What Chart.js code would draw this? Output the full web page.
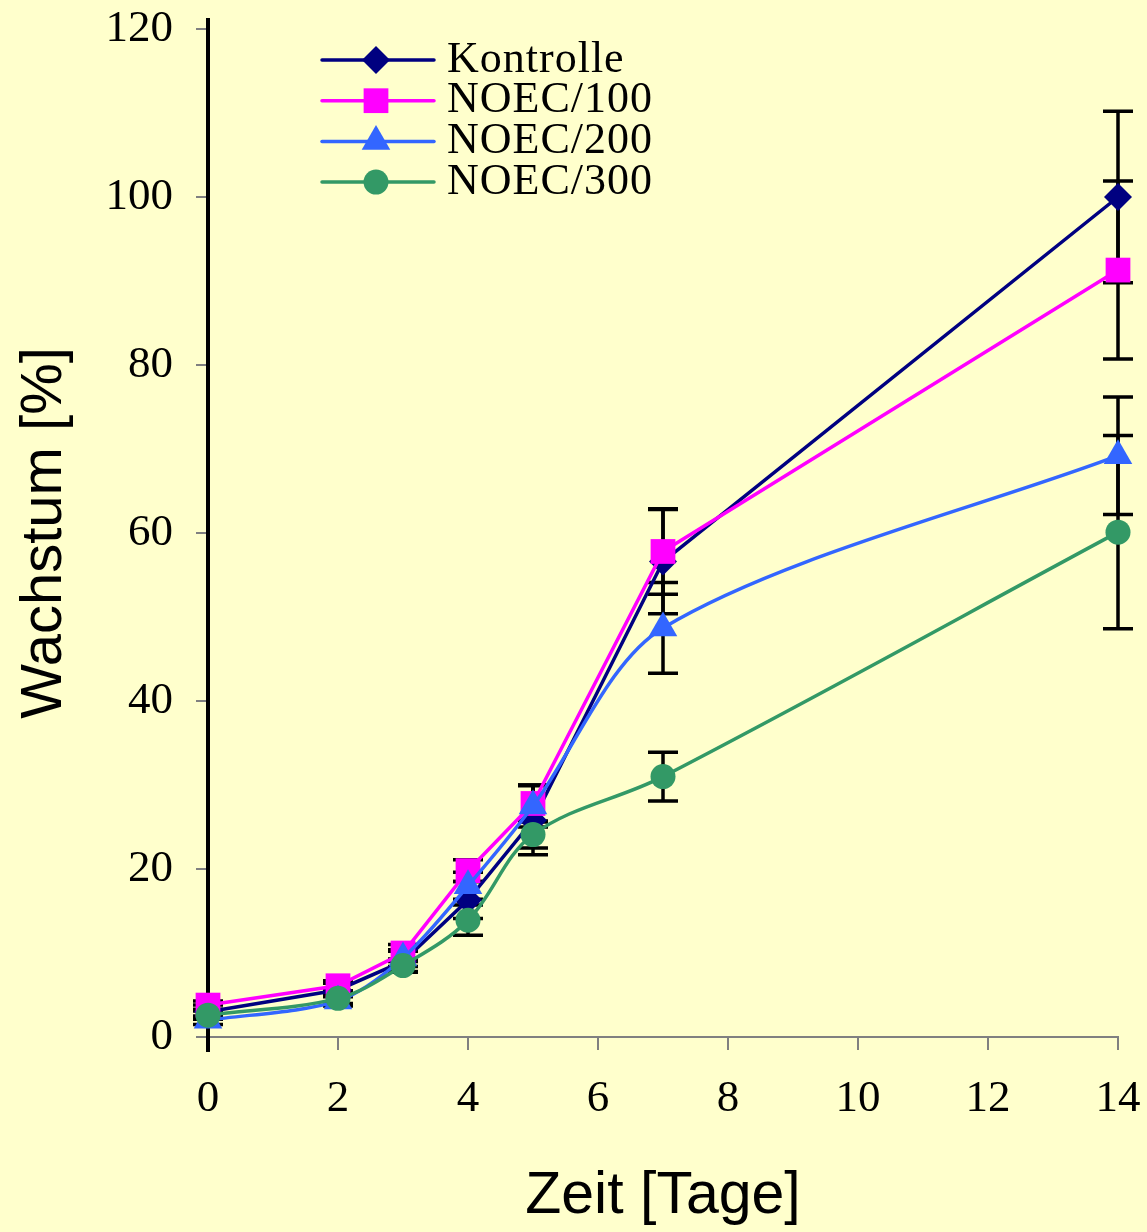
<!DOCTYPE html>
<html>
<head>
<meta charset="utf-8">
<script src="https://cdn.jsdelivr.net/npm/chart.js@4/dist/chart.umd.min.js"></script>
<style>
  html, body { margin: 0; padding: 0; background: #FFFFCC; }
  #wrap { width: 1147px; height: 1232px; position: relative; }
</style>
</head>
<body>
<div id="wrap"><canvas id="c"></canvas></div>
<script>
// ---- data ----
const days = [0, 2, 3, 4, 5, 7, 14];
const seriesNames = ['Kontrolle', 'NOEC/100', 'NOEC/200', 'NOEC/300'];
const kontrolle = [3.0, 5.6, 9.0, 16.3, 25.8, 56.6, 100.0];
const noec100   = [3.8, 6.1, 10.0, 19.8, 27.8, 57.8, 91.3];
const noec200   = [2.0, 4.3, 9.4, 18.0, 27.5, 48.7, 69.2];
const noec300   = [2.6, 4.6, 8.5, 13.9, 24.1, 31.0, 60.1];
const errKontrolle = [0.8, 0.8, 1.2, 2.2, 4.1, 6.2, 10.2];
const errNoec100   = [0.5, 0.6, 1.0, 1.3, 2.2, 5.1, 10.6];
const errNoec200   = [0.5, 0.6, 1.0, 1.6, 2.5, 5.4, 7.0];
const errNoec300   = [0.5, 0.6, 0.8, 1.8, 1.6, 2.9, 11.5];
const xTickValues = [0, 2, 4, 6, 8, 10, 12, 14];
const yTickValues = [0, 20, 40, 60, 80, 100, 120];
const xTitle = 'Zeit [Tage]';
const yTitle = 'Wachstum [%]';

const colors = ['#000080', '#FF00FF', '#3366FF', '#339966'];
const styles = ['rectRot', 'rect', 'triangle', 'circle'];
const radii = [14, 17.5, 16.5, 12.5];
const tensions = [0, 0, 0.3, 0.35];
const values = [kontrolle, noec100, noec200, noec300];
const errors = [errKontrolle, errNoec100, errNoec200, errNoec300];

const datasets = seriesNames.map((name, i) => ({
  label: name,
  data: days.map((d, j) => ({x: d, y: values[i][j]})),
  borderColor: colors[i],
  backgroundColor: colors[i],
  pointBackgroundColor: colors[i],
  pointBorderColor: colors[i],
  pointBorderWidth: 0,
  pointStyle: styles[i],
  pointRadius: radii[i],
  pointHoverRadius: radii[i],
  borderWidth: 3.5,
  tension: tensions[i],
  clip: false,
  order: 4 - i,
  errors: errors[i]
}));

const serif = "'Liberation Serif', 'Times New Roman', serif";
const sans = "'Liberation Sans', Arial, sans-serif";

const bgPlugin = {
  id: 'bg',
  beforeDraw(chart) {
    const ctx = chart.ctx;
    ctx.save();
    ctx.fillStyle = '#FFFFCC';
    ctx.fillRect(0, 0, chart.width, chart.height);
    ctx.restore();
  }
};

const errPlugin = {
  id: 'errbars',
  beforeDatasetsDraw(chart) {
    const ctx = chart.ctx;
    const xs = chart.scales.x, ys = chart.scales.y;
    ctx.save();
    ctx.strokeStyle = '#000';
    ctx.lineWidth = 4;
    ctx.beginPath();
    ctx.moveTo(xs.getPixelForValue(0), ys.getPixelForValue(120) - 11);
    ctx.lineTo(xs.getPixelForValue(0), ys.getPixelForValue(0) + 15);
    ctx.stroke();
    ctx.lineWidth = 3.5;
    ctx.lineCap = 'butt';
    chart.data.datasets.forEach(ds => {
      ds.data.forEach((p, j) => {
        const e = ds.errors[j];
        const px = xs.getPixelForValue(p.x);
        const yTop = ys.getPixelForValue(p.y + e);
        const yBot = ys.getPixelForValue(p.y - e);
        ctx.beginPath();
        ctx.moveTo(px, yTop); ctx.lineTo(px, yBot);
        ctx.moveTo(px - 15, yTop); ctx.lineTo(px + 15, yTop);
        ctx.moveTo(px - 15, yBot); ctx.lineTo(px + 15, yBot);
        ctx.stroke();
      });
    });
    ctx.restore();
  }
};

const legendPlugin = {
  id: 'customLegend',
  afterDatasetsDraw(chart) {
    const ctx = chart.ctx;
    const area = chart.chartArea;
    const lx0 = area.left + 114, lx1 = area.left + 226, mx = area.left + 168;
    const tx = area.left + 239;
    const y0 = area.top + 31, step = 40.7;
    ctx.save();
    chart.data.datasets.forEach((ds, i) => {
      const y = y0 + i * step;
      ctx.strokeStyle = ds.borderColor;
      ctx.lineWidth = 3.5;
      ctx.lineCap = 'round';
      ctx.beginPath();
      ctx.moveTo(lx0, y); ctx.lineTo(lx1, y);
      ctx.stroke();
      ctx.fillStyle = ds.backgroundColor;
      Chart.helpers.drawPoint(ctx, {pointStyle: ds.pointStyle, radius: ds.pointRadius, borderWidth: 0, rotation: 0}, mx, y);
      ctx.fillStyle = '#000';
      ctx.font = "44px " + serif;
      ctx.textBaseline = 'middle';
      ctx.textAlign = 'left';
      try { ctx.letterSpacing = '1px'; } catch (e) {}
      ctx.fillText(ds.label, tx, y);
    });
    ctx.restore();
  }
};

new Chart(document.getElementById('c'), {
  type: 'line',
  data: { datasets },
  plugins: [bgPlugin, errPlugin, legendPlugin],
  options: {
    responsive: true,
    maintainAspectRatio: false,
    animation: false,
    events: [],
    layout: { padding: { top: 29, right: 29, left: 0, bottom: 0 } },
    plugins: { legend: { display: false }, tooltip: { enabled: false } },
    scales: {
      x: {
        type: 'linear', min: 0, max: 14,
        afterFit(s) { s.height = 195; s.paddingLeft = 0; s.paddingRight = 0; },
        afterBuildTicks(s) { s.ticks = xTickValues.map(v => ({value: v})); },
        grid: { drawOnChartArea: false, drawTicks: true, tickLength: 13, color: '#808080', lineWidth: 2 },
        border: { display: true, color: '#808080', width: 2 },
        ticks: { color: '#000', font: { family: serif, size: 45 }, padding: 22, maxRotation: 0, autoSkip: false },
        title: { display: true, text: xTitle, color: '#000', font: { family: sans, size: 59 }, padding: { top: 0, bottom: 0 } }
      },
      y: {
        type: 'linear', min: 0, max: 120,
        afterFit(s) { s.width = 208; s.paddingTop = 0; s.paddingBottom = 0; },
        afterBuildTicks(s) { s.ticks = yTickValues.map(v => ({value: v})); },
        grid: { drawOnChartArea: false, drawTicks: true, tickLength: 12, color: '#808080', lineWidth: 2 },
        border: { display: false },
        ticks: { color: '#000', font: { family: serif, size: 45 }, padding: 23, autoSkip: false },
        title: { display: true, text: yTitle, color: '#000', font: { family: sans, size: 58 }, padding: { top: 10, bottom: 0 } }
      }
    }
  }
});
</script>
</body>
</html>
